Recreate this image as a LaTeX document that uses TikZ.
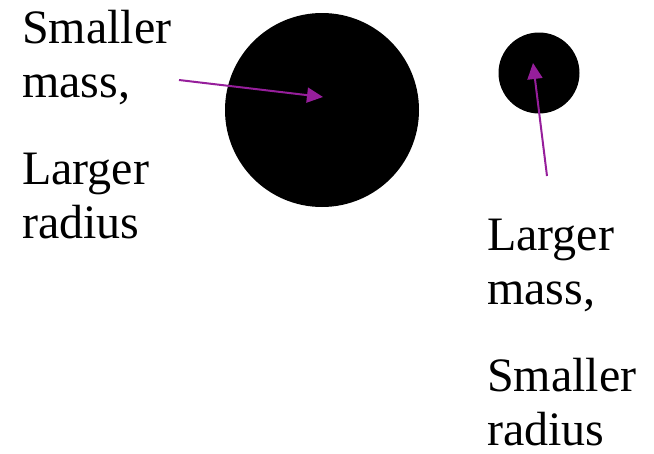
\documentclass[tikz,border=0pt]{standalone}
\usepackage{fontspec}
\setmainfont{Liberation Serif}
\usetikzlibrary{arrows.meta}
\definecolor{arrowpurple}{RGB}{150,30,155}

\begin{document}
\begin{tikzpicture}[
    x=1pt,y=-1pt,
    body/.style={circle,fill=black,inner sep=0pt},
    lbl/.style={font=\fontsize{48}{54}\selectfont,align=left,anchor=base west,inner sep=0pt},
    pointer/.style={-{Triangle[length=16pt,width=15pt]},line width=2pt,arrowpurple},
]
\useasboundingbox (0,0) rectangle (654,453);

% ---- the two bodies ----
\node[body,minimum size=194pt] (big) at (322,110) {};
\node[body,minimum size=81pt] (small) at (539,73) {};

% ---- labels (anchored at the baseline of the last line) ----
\node[lbl] (lmass) at (22,97) {Smaller\\mass,};
\node[lbl] (lrad) at (22,238) {Larger\\radius};
\node[lbl] (rmass) at (487,304) {Larger\\mass,};
\node[lbl] (rrad) at (487,445) {Smaller\\radius};

% ---- arrows ----
\coordinate (bigtail) at (179,80);
\coordinate (bigtip) at (323,97);
\coordinate (smalltail) at (547,176);
\coordinate (smalltip) at (533,63);
\draw[pointer] (bigtail) -- (bigtip);
\draw[pointer] (smalltail) -- (smalltip);

\end{tikzpicture}
\end{document}
